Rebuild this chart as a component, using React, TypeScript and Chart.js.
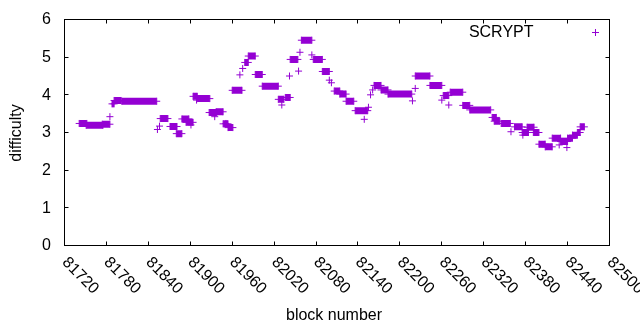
import React, { useEffect, useRef } from "react";
import { Chart, registerables } from "chart.js";

Chart.register(...registerables);

const seriesName = "SCRYPT";
const xTitle = "block number";
const yTitle = "difficulty";
const xTicks = [81720, 81780, 81840, 81900, 81960, 82020, 82080, 82140, 82200, 82260, 82320, 82380, 82440, 82500];
const yTicks = [0, 1, 2, 3, 4, 5, 6];

// runs of consecutive blocks at a constant difficulty
const runStart = [81741, 81751, 81774, 81788, 81791, 81802, 81857, 81871, 81880, 81888, 81894, 81904, 81910, 81927, 81937, 81947, 81954, 81960, 81978, 81983, 81993, 82003, 82026, 82036, 82043, 82059, 82076, 82089, 82106, 82114, 82123, 82136, 82163, 82173, 82183, 82222, 82243, 82262, 82272, 82290, 82300, 82332, 82335, 82345, 82364, 82375, 82382, 82391, 82399, 82408, 82418, 82430, 82440, 82447, 82454, 82458];
const runEnd = [81752, 81775, 81785, 81791, 81801, 81852, 81868, 81881, 81888, 81898, 81904, 81910, 81928, 81938, 81947, 81954, 81961, 81974, 81983, 81993, 82003, 82026, 82034, 82043, 82054, 82074, 82089, 82099, 82114, 82123, 82134, 82154, 82173, 82183, 82217, 82243, 82260, 82270, 82290, 82300, 82330, 82338, 82343, 82358, 82375, 82384, 82392, 82399, 82408, 82418, 82430, 82440, 82447, 82454, 82458, 82464];
const runValue = [3.24, 3.19, 3.22, 3.76, 3.85, 3.83, 3.37, 3.16, 2.97, 3.36, 3.27, 3.96, 3.9, 3.53, 3.55, 3.23, 3.13, 4.12, 4.86, 5.03, 4.54, 4.23, 3.88, 3.93, 4.94, 5.45, 4.94, 4.62, 4.1, 4.02, 3.83, 3.58, 4.25, 4.13, 4.02, 4.5, 4.25, 3.98, 4.07, 3.72, 3.6, 3.4, 3.3, 3.24, 3.15, 3.0, 3.14, 3.0, 2.69, 2.62, 2.85, 2.76, 2.85, 2.93, 3.0, 3.15];

// isolated blocks
const singleBlock = [81785, 81853, 81856, 81901, 81909, 81935, 81951, 81971, 81975, 82031, 82042, 82055, 82057, 82074, 82099, 82102, 82149, 82155, 82158, 82161, 82218, 82222, 82260, 82270, 82359, 82376, 82428, 82439];
const singleValue = [3.42, 3.08, 3.17, 3.2, 3.86, 3.42, 3.24, 4.53, 4.7, 3.73, 4.5, 4.63, 5.13, 5.06, 4.39, 4.32, 3.35, 3.67, 4.0, 4.13, 3.84, 4.17, 3.86, 3.73, 3.02, 2.93, 2.67, 2.6];

const COLOR = "#9400d3";
const FONT = '16px "Liberation Sans", Arial, sans-serif';

const framePlugin = {
  id: "gnuframe",
  afterDraw(chart: any) {
    const { ctx, chartArea: a, scales } = chart;
    const xs = scales.x;
    const ys = scales.y;
    ctx.save();
    ctx.strokeStyle = "#000";
    ctx.lineWidth = 1;
    ctx.strokeRect(a.left, a.top, a.right - a.left, a.bottom - a.top);
    const T = 4;
    ctx.beginPath();
    xTicks.forEach((v) => {
      const px = Math.round(xs.getPixelForValue(v) - 0.5) + 0.5;
      ctx.moveTo(px, a.bottom);
      ctx.lineTo(px, a.bottom - T);
      ctx.moveTo(px, a.top);
      ctx.lineTo(px, a.top + T);
    });
    yTicks.forEach((v) => {
      const py = Math.round(ys.getPixelForValue(v) - 0.5) + 0.5;
      ctx.moveTo(a.left, py);
      ctx.lineTo(a.left + T, py);
      ctx.moveTo(a.right, py);
      ctx.lineTo(a.right - T, py);
    });
    ctx.stroke();

    ctx.fillStyle = "#000";
    ctx.font = FONT;
    ctx.textAlign = "right";
    ctx.textBaseline = "middle";
    yTicks.forEach((v) => ctx.fillText(String(v), a.left - 13.5, ys.getPixelForValue(v) + 0.5));
    xTicks.forEach((v) => {
      ctx.save();
      ctx.translate(xs.getPixelForValue(v), a.bottom + 14.5);
      ctx.rotate(Math.PI / 4);
      ctx.textAlign = "left";
      ctx.fillText(String(v), 0, 0);
      ctx.restore();
    });

    ctx.textAlign = "center";
    ctx.fillText(xTitle, 334, 316);
    ctx.save();
    ctx.translate(17, 133);
    ctx.rotate(-Math.PI / 2);
    ctx.fillText(yTitle, 0, 0);
    ctx.restore();

    ctx.textAlign = "right";
    ctx.fillText(seriesName, 533.5, 32.5);
    ctx.strokeStyle = COLOR;
    ctx.beginPath();
    ctx.moveTo(592, 32.5);
    ctx.lineTo(599, 32.5);
    ctx.moveTo(595.5, 29);
    ctx.lineTo(595.5, 36);
    ctx.stroke();
    ctx.restore();
  },
};

export default function App() {
  const ref = useRef<HTMLCanvasElement>(null);
  useEffect(() => {
    const lineData: any[] = [];
    runStart.forEach((s, i) => {
      lineData.push({ x: s, y: runValue[i] }, { x: runEnd[i], y: runValue[i] }, { x: runEnd[i], y: null });
    });
    const pts: any[] = [];
    runStart.forEach((s, i) => {
      pts.push({ x: s, y: runValue[i] });
      pts.push({ x: runEnd[i], y: runValue[i] });
    });
    singleBlock.forEach((b, i) => pts.push({ x: b, y: singleValue[i] }));

    const chart = new Chart(ref.current as HTMLCanvasElement, {
      type: "line",
      data: {
        datasets: [
          {
            label: seriesName,
            data: lineData,
            borderColor: COLOR,
            backgroundColor: COLOR,
            borderWidth: 7,
            borderCapStyle: "butt",
            pointRadius: 0,
            spanGaps: false,
            fill: false,
            tension: 0,
          },
          {
            label: seriesName,
            data: pts,
            showLine: false,
            pointStyle: "cross",
            pointRadius: 3.5,
            pointBorderWidth: 1,
            pointBorderColor: COLOR,
            pointBackgroundColor: COLOR,
            borderColor: COLOR,
          },
        ],
      } as any,
      options: {
        animation: false,
        responsive: false,
        events: [],
        layout: { padding: { left: 64.5, right: 30.5, top: 19.5, bottom: 84.5 } },
        plugins: { legend: { display: false }, tooltip: { enabled: false } },
        scales: {
          x: { type: "linear", min: 81720, max: 82500, display: false },
          y: { type: "linear", min: 0, max: 6, display: false },
        },
      } as any,
      plugins: [framePlugin],
    });
    return () => chart.destroy();
  }, []);

  return (
    <div style={{ position: "absolute", left: 0, top: 0, width: 640, height: 330, background: "#fff" }}>
      <canvas ref={ref} width={640} height={330} style={{ display: "block" }} />
    </div>
  );
}
